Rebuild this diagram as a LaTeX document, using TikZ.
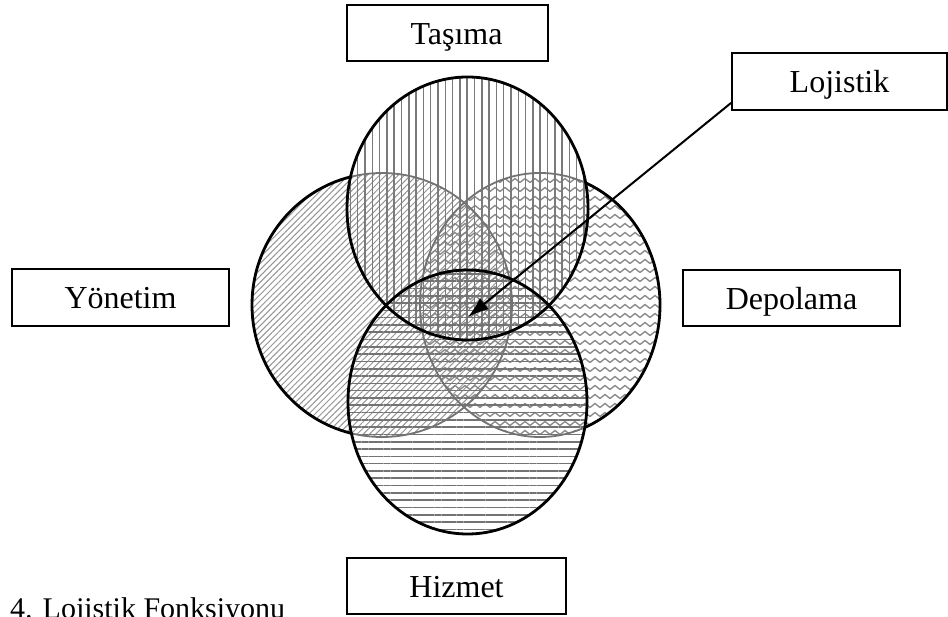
\documentclass[tikz,border=0pt]{standalone}
\usepackage{fontspec}
\setmainfont{Liberation Serif}
\usetikzlibrary{patterns,patterns.meta,arrows.meta}

% horizontal zigzag hatching
\pgfdeclarepattern{
  name=zigzag,
  type=uncolored,
  bottom left={\pgfpoint{-1pt}{-1pt}},
  top right={\pgfpoint{11pt}{10pt}},
  tile size={\pgfpoint{10pt}{9pt}},
  code={
    \pgfsetlinewidth{1.3pt}
    \pgfpathmoveto{\pgfpoint{0pt}{2.5pt}}
    \pgfpathlineto{\pgfpoint{5pt}{6.5pt}}
    \pgfpathlineto{\pgfpoint{10pt}{2.5pt}}
    \pgfusepath{stroke}
  }
}

\tikzset{
  lbl/.style={draw, line width=1.8pt, fill=white, inner sep=0pt,
              text height=23pt, text depth=0pt},
  rim/.style={draw, line width=2.8pt},
  faintrim/.style={draw=black!55, line width=1.8pt},
  arr/.style={line width=2pt, -{Latex[length=21pt,width=14pt]}},
  rT/.style={x radius=120.5, y radius=131.5},
  rH/.style={x radius=119.5, y radius=132},
  rY/.style={x radius=130, y radius=132},
  rD/.style={x radius=120, y radius=132},
}

\begin{document}
\begin{tikzpicture}[x=1pt, y=-1pt, font=\fontsize{32}{38}\selectfont]
\useasboundingbox (0,0) rectangle (948,617);
\clip (0,0) rectangle (948,617);

% circle centres
\coordinate (cT) at (467.5,208.5);
\coordinate (cH) at (467.5,402);
\coordinate (cY) at (382,305);
\coordinate (cD) at (540,305);

% hatched fills
\path[pattern={Lines[angle=45,distance=4.4pt,line width=1pt]}, pattern color=black!42]
  (cY) ellipse [rY];
\path[pattern=zigzag, pattern color=black!48] (cD) ellipse [rD];
\path[pattern={Lines[angle=90,distance=7.3pt,line width=1.5pt]}, pattern color=black!52]
  (cT) ellipse [rT];
\path[pattern={Lines[angle=0,distance=7.3pt,line width=1.6pt]}, pattern color=black!55]
  (cH) ellipse [rH];

% outlines of the side circles: faint where they run under the upper and lower ones
\path[faintrim] (cY) ellipse [rY];
\path[faintrim] (cD) ellipse [rD];
\begin{scope}[even odd rule]
  \clip (-10,-10) rectangle (960,630) (cT) ellipse [rT];
  \begin{scope}[even odd rule]
    \clip (-10,-10) rectangle (960,630) (cH) ellipse [rH];
    \path[rim] (cY) ellipse [rY];
    \path[rim] (cD) ellipse [rD];
  \end{scope}
\end{scope}
\path[rim] (cT) ellipse [rT];
\path[rim] (cH) ellipse [rH];

% labels
\node[lbl, minimum width=201pt, minimum height=56pt] (tas) at (447.5,33) {\hspace*{18pt}Taşıma};
\node[lbl, minimum width=215pt, minimum height=57pt] (loj) at (839.5,81.5) {Lojistik};
\node[lbl, minimum width=217pt, minimum height=57pt] (yon) at (120.5,297.5) {Yönetim};
\node[lbl, minimum width=217pt, minimum height=56pt] (dep) at (791.5,298) {Depolama};
\node[lbl, minimum width=219pt, minimum height=56pt] (hiz) at (456.5,586) {Hizmet};

% pointer into the common core
\coordinate (ls) at ([yshift=8pt]loj.south west);
\coordinate (core) at (468,317);
\draw[arr] (ls) -- (core);

% caption
\node[anchor=base west, inner sep=0pt, font=\fontsize{30}{36}\selectfont] (cap) at (10,618)
  {4. Lojistik Fonksiyonu};
\end{tikzpicture}
\end{document}
